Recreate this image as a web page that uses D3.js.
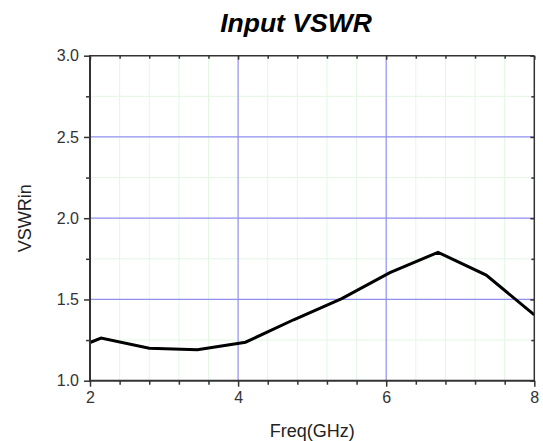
<!DOCTYPE html>
<html>
<head>
<meta charset="utf-8">
<script src="https://cdn.jsdelivr.net/npm/d3@7"></script>
<style>
  html, body { margin: 0; padding: 0; background: #fff; }
  svg { display: block; font-family: "Liberation Sans", Arial, sans-serif; }
</style>
</head>
<body>
<svg id="chart" width="543" height="441"></svg>
<script>
// ---- data ----
const freqGHz = [2.0, 2.15, 2.8, 3.45, 4.1, 4.75, 5.4, 6.05, 6.7, 7.35, 8.0];
const vswrIn  = [1.235, 1.262, 1.200, 1.190, 1.237, 1.375, 1.505, 1.665, 1.790, 1.650, 1.405];
const xMajorTicks = [2, 4, 6, 8];
const xMinorTicks = [2.4, 2.8, 3.2, 3.6, 4.4, 4.8, 5.2, 5.6, 6.4, 6.8, 7.2, 7.6];
const yMajorTicks = [1.0, 1.5, 2.0, 2.5, 3.0];
const yMinorTicks = [1.25, 1.75, 2.25, 2.75];
const titleText = "Input VSWR";
const xLabel = "Freq(GHz)";
const yLabel = "VSWRin";

// ---- layout ----
const pL = 90, pR = 534.3, pT = 55.7, pB = 380.7;
const svg = d3.select("#chart");
const x = d3.scaleLinear().domain([2, 8]).range([pL, pR]);
const y = d3.scaleLinear().domain([1, 3]).range([pB, pT]);

// minor grid (light green)
const grid = svg.append("g");
grid.selectAll(".gxm").data(xMinorTicks).join("line")
  .attr("x1", d => x(d)).attr("x2", d => x(d)).attr("y1", pT).attr("y2", pB)
  .attr("stroke", "#e3f7e3").attr("stroke-width", 1);
grid.selectAll(".gym").data(yMinorTicks).join("line")
  .attr("x1", pL).attr("x2", pR).attr("y1", d => y(d)).attr("y2", d => y(d))
  .attr("stroke", "#e3f7e3").attr("stroke-width", 1);
// major grid (blue)
grid.selectAll(".gxM").data(xMajorTicks.slice(1, -1)).join("line")
  .attr("x1", d => x(d)).attr("x2", d => x(d)).attr("y1", pT).attr("y2", pB)
  .attr("stroke", "#8f8ff0").attr("stroke-width", 1.2);
grid.selectAll(".gyM").data(yMajorTicks.slice(1, -1)).join("line")
  .attr("x1", pL).attr("x2", pR).attr("y1", d => y(d)).attr("y2", d => y(d))
  .attr("stroke", "#8f8ff0").attr("stroke-width", 1.2);

// data line
svg.append("path")
  .datum(freqGHz.map((f, i) => [f, vswrIn[i]]))
  .attr("fill", "none").attr("stroke", "#000").attr("stroke-width", 3)
  .attr("stroke-linejoin", "miter")
  .attr("d", d3.line().x(d => x(d[0])).y(d => y(d[1])));

const axisColor = "#333";
function styleAxis(g) {
  g.select(".domain").remove();
  g.selectAll(".tick line").attr("stroke", axisColor).attr("stroke-width", 1.5);
  g.selectAll(".tick text").attr("fill", "#333").style("font-size", "16px")
    .style("font-family", "'Liberation Sans', Arial, sans-serif");
}

// bottom axis (outward ticks)
svg.append("g").attr("transform", `translate(0,${pB})`)
  .call(d3.axisBottom(x).tickValues(xMajorTicks).tickSize(6).tickPadding(5).tickFormat(d3.format("d")))
  .call(styleAxis);
svg.append("g").attr("transform", `translate(0,${pB})`)
  .call(d3.axisBottom(x).tickValues(xMinorTicks).tickSize(4).tickFormat(""))
  .call(styleAxis);
// left axis (outward ticks)
svg.append("g").attr("transform", `translate(${pL},0)`)
  .call(d3.axisLeft(y).tickValues(yMajorTicks).tickSize(6).tickPadding(5).tickFormat(d3.format(".1f")))
  .call(styleAxis);
svg.append("g").attr("transform", `translate(${pL},0)`)
  .call(d3.axisLeft(y).tickValues(yMinorTicks).tickSize(4).tickFormat(""))
  .call(styleAxis);
// top axis (inward ticks)
svg.append("g").attr("transform", `translate(0,${pT})`)
  .call(d3.axisBottom(x).tickValues(xMajorTicks).tickSize(4).tickFormat(""))
  .call(styleAxis);
svg.append("g").attr("transform", `translate(0,${pT})`)
  .call(d3.axisBottom(x).tickValues(xMinorTicks).tickSize(3).tickFormat(""))
  .call(styleAxis);
// right axis (inward ticks)
svg.append("g").attr("transform", `translate(${pR},0)`)
  .call(d3.axisLeft(y).tickValues(yMajorTicks).tickSize(4).tickFormat(""))
  .call(styleAxis);
svg.append("g").attr("transform", `translate(${pR},0)`)
  .call(d3.axisLeft(y).tickValues(yMinorTicks).tickSize(3).tickFormat(""))
  .call(styleAxis);

// frame
svg.append("line").attr("x1", pL).attr("x2", pR).attr("y1", pT).attr("y2", pT)
  .attr("stroke", axisColor).attr("stroke-width", 1.5);
svg.append("line").attr("x1", pR).attr("x2", pR).attr("y1", pT).attr("y2", pB)
  .attr("stroke", axisColor).attr("stroke-width", 1.5);
svg.append("line").attr("x1", pL).attr("x2", pL).attr("y1", pT - 0.75).attr("y2", pB + 1)
  .attr("stroke", axisColor).attr("stroke-width", 2);
svg.append("line").attr("x1", pL - 1).attr("x2", pR + 0.75).attr("y1", pB).attr("y2", pB)
  .attr("stroke", axisColor).attr("stroke-width", 2);

// title and labels
svg.append("text").attr("x", 296).attr("y", 31.5).attr("text-anchor", "middle")
  .style("font-size", "26.5px").style("font-weight", "bold").style("font-style", "italic")
  .attr("fill", "#000").text(titleText);
svg.append("text").attr("x", (pL + pR) / 2).attr("y", 437).attr("text-anchor", "middle")
  .style("font-size", "18px").attr("fill", "#222").text(xLabel);
svg.append("text").attr("transform", `translate(31,${(pT + pB) / 2}) rotate(-90)`)
  .attr("text-anchor", "middle")
  .style("font-size", "18px").attr("fill", "#222").text(yLabel);
</script>
</body>
</html>
